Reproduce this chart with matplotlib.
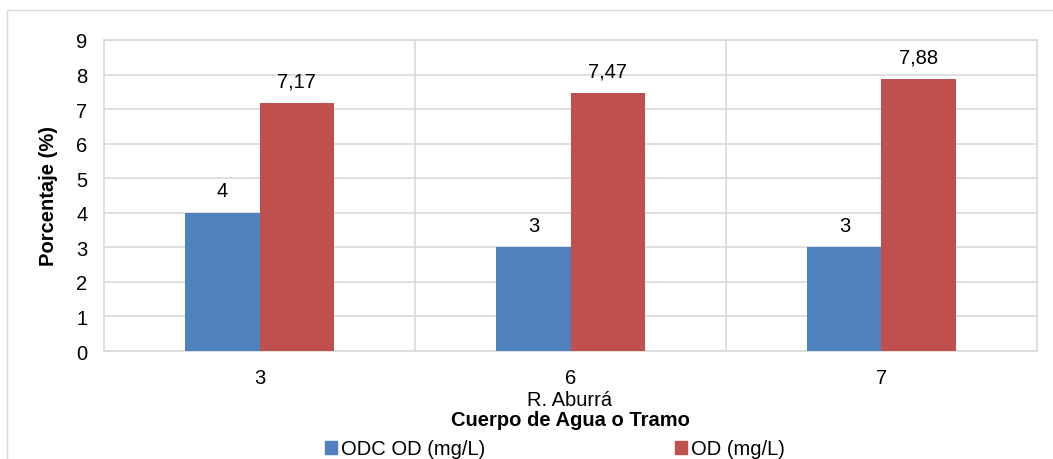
import matplotlib
matplotlib.use("Agg")
import matplotlib.pyplot as plt
from matplotlib.patches import Rectangle, Patch
import numpy as np

categories = ["3", "6", "7"]
odc_od = [4, 3, 3]
od = [7.17, 7.47, 7.88]
odc_labels = ["4", "3", "3"]
od_labels = ["7,17", "7,47", "7,88"]
series_names = ["ODC OD (mg/L)", "OD (mg/L)"]
group_label = "R. Aburrá"
x_title = "Cuerpo de Agua o Tramo"
y_title = "Porcentaje (%)"

blue = "#4F81BD"
red = "#C0504D"
grid_c = "#D9D9D9"
fs = 14.5

plt.rcParams['font.family'] = ['Liberation Sans', 'DejaVu Sans']

fig = plt.figure(figsize=(10.53, 4.6), dpi=100)
ax = fig.add_axes([104/1053, 1-352/460, (1037-104)/1053, (352-41)/460])

# outer chart frame
fig.patches.append(Rectangle((7/1053, -0.1), 1.2, 1-11/460+0.1, transform=fig.transFigure,
                             fill=False, edgecolor=grid_c, linewidth=1.0))

x = np.arange(len(categories))
w = 0.238
b1 = ax.bar(x - w/2, odc_od, w, color=blue, zorder=3)
b2 = ax.bar(x + w/2, od, w, color=red, zorder=3)

for rect, lab in zip(b1, odc_labels):
    ax.annotate(lab, (rect.get_x() + rect.get_width()/2, rect.get_height()),
                xytext=(0, 9), textcoords="offset points", ha="center", va="bottom", fontsize=fs)
for rect, lab in zip(b2, od_labels):
    ax.annotate(lab, (rect.get_x() + rect.get_width()/2, rect.get_height()),
                xytext=(0, 9), textcoords="offset points", ha="center", va="bottom", fontsize=fs)

ax.set_xlim(-0.5, len(categories) - 0.5)
ax.set_ylim(0, 9)
ax.set_yticks(range(0, 10))
ax.set_xticks(x)
ax.set_xticklabels(categories, fontsize=fs)
ax.tick_params(axis='y', labelsize=fs, length=0, pad=12)
ax.tick_params(axis='x', length=0, pad=12)
ax.yaxis.grid(True, color=grid_c, linewidth=1.2, zorder=0)
for xb in np.arange(0.5, len(categories) - 0.5, 1):
    ax.axvline(xb, color=grid_c, linewidth=1.2, zorder=0)
for s in ax.spines.values():
    s.set_color(grid_c)
    s.set_linewidth(1.2)
ax.set_axisbelow(True)

ax.set_ylabel(y_title, fontsize=fs, fontweight='bold', labelpad=13)

fig.text(570/1053, 1-406/460, group_label, ha='center', va='baseline', fontsize=fs)
fig.text(570/1053, 1-426/460, x_title, ha='center', va='baseline', fontsize=fs, fontweight='bold')

handles = [Patch(color=blue), Patch(color=red)]
fig.legend(handles, series_names, loc='center left', bbox_to_anchor=(325/1053, 1-450/460),
           ncol=2, frameon=False, fontsize=fs, handlelength=0.6, handleheight=0.6,
           handletextpad=0.2, columnspacing=9.4, borderpad=0, borderaxespad=0)

fig.savefig("out.png", dpi=100)
